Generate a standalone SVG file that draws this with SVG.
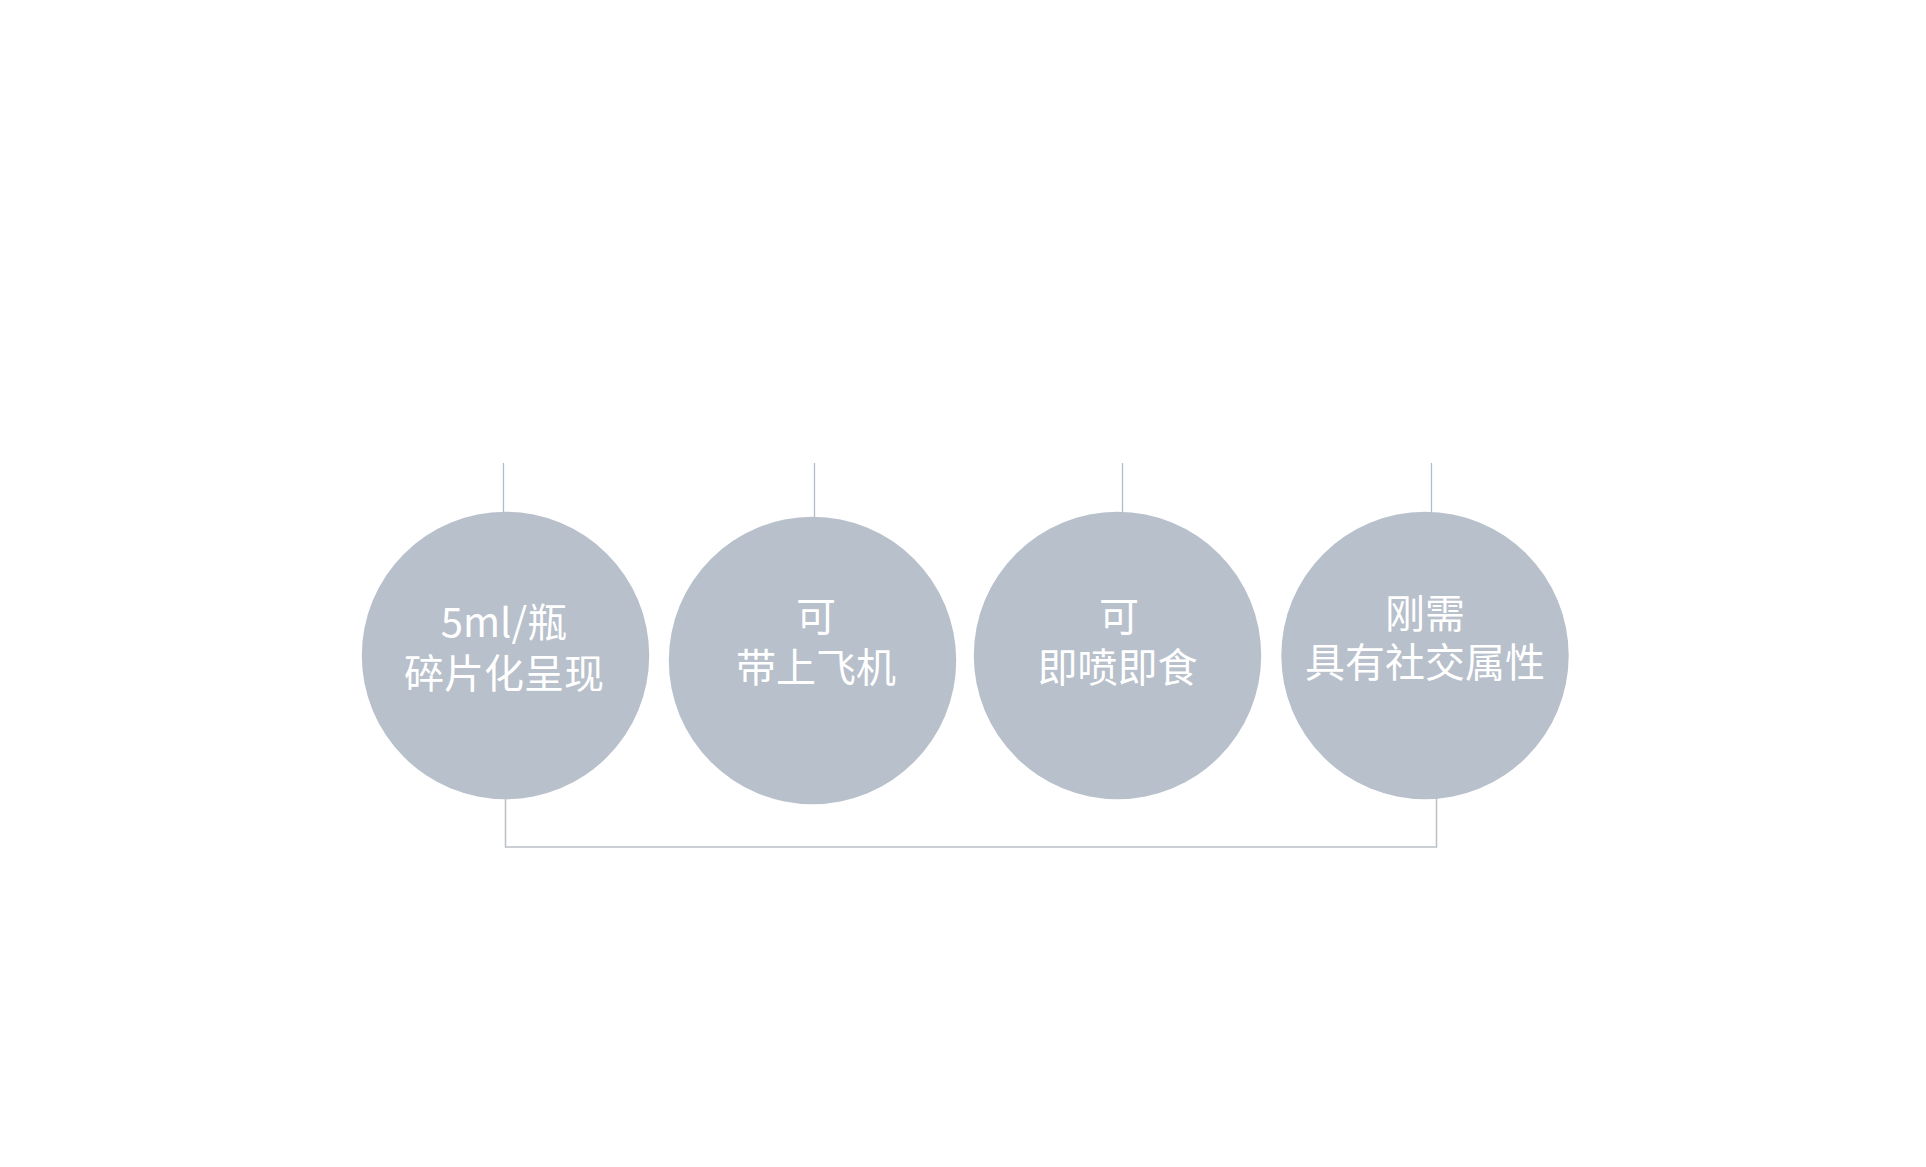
<svg xmlns="http://www.w3.org/2000/svg" width="1926" height="1167" viewBox="0 0 1926 1167">
<style>
.c{fill:#b8c0cb}
.t{fill:#ffffff;font-family:"Noto Sans CJK SC","Liberation Sans",sans-serif;font-size:40px;font-weight:400;text-anchor:middle}
.ln{stroke:#b3bbc6;stroke-width:1.3;fill:none}
.lb{stroke:#bcc0c6;stroke-width:1.5;fill:none}
</style>
<rect width="1926" height="1167" fill="#ffffff"/>
<g id="connectors">
<line class="ln" x1="503.5" y1="463" x2="503.5" y2="513"/>
<line class="ln" x1="814.5" y1="463" x2="814.5" y2="518"/>
<line class="ln" x1="1122.5" y1="463" x2="1122.5" y2="513"/>
<line class="ln" x1="1431.5" y1="463" x2="1431.5" y2="513"/>
<polyline class="lb" points="505.5,798 505.5,847 1436.5,847 1436.5,798"/>
</g>
<g id="node1">
<circle class="c" cx="505.5" cy="655.5" r="143.7"/>
<text class="t"><tspan x="504" y="637">5ml/瓶</tspan><tspan x="504" y="688">碎片化呈现</tspan></text>
</g>
<g id="node2">
<circle class="c" cx="812.5" cy="660.5" r="143.7"/>
<text class="t"><tspan x="816" y="631">可</tspan><tspan x="816" y="682">带上飞机</tspan></text>
</g>
<g id="node3">
<circle class="c" cx="1117.5" cy="655.5" r="143.7"/>
<text class="t"><tspan x="1119" y="631">可</tspan><tspan x="1117.5" y="682">即喷即食</tspan></text>
</g>
<g id="node4">
<circle class="c" cx="1425" cy="655.5" r="143.7"/>
<text class="t"><tspan x="1425" y="628">刚需</tspan><tspan x="1425" y="677">具有社交属性</tspan></text>
</g>
</svg>
